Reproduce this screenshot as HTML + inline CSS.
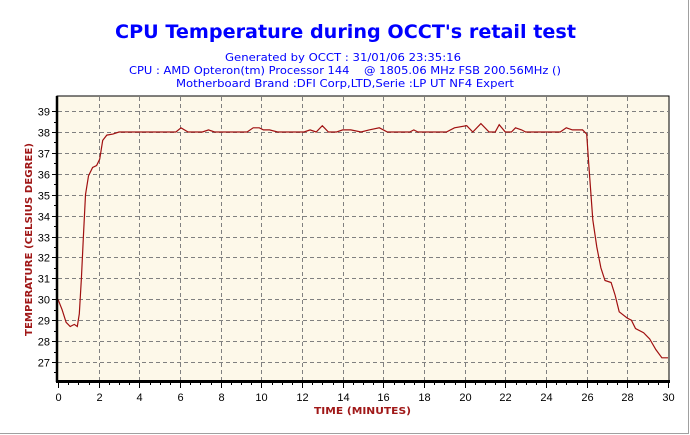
<!DOCTYPE html>
<html><head><meta charset="utf-8"><style>
body{margin:0;background:#fff}
svg{display:block}
</style></head><body>
<svg id="chart" width="690" height="435" xmlns="http://www.w3.org/2000/svg" font-family="DejaVu Sans, Liberation Sans, sans-serif">
<rect x="0" y="0" width="690" height="435" fill="#fff"/>
<line x1="688.5" y1="0" x2="688.5" y2="434" stroke="#a0a0a0"/>
<line x1="0" y1="433.5" x2="689" y2="433.5" stroke="#a0a0a0"/>
<text x="115" y="38" font-size="19" font-weight="bold" fill="#0000ff" textLength="461" lengthAdjust="spacingAndGlyphs">CPU Temperature during OCCT's retail test</text>
<text x="225" y="61" font-size="11" fill="#0000ff" textLength="236" lengthAdjust="spacingAndGlyphs">Generated by OCCT : 31/01/06 23:35:16</text>
<text x="129" y="74" font-size="11" fill="#0000ff" textLength="432" lengthAdjust="spacingAndGlyphs" xml:space="preserve">CPU : AMD Opteron(tm) Processor 144    @ 1805.06 MHz FSB 200.56MHz ()</text>
<text x="176" y="87" font-size="11" fill="#0000ff" textLength="338" lengthAdjust="spacingAndGlyphs">Motherboard Brand :DFI Corp,LTD,Serie :LP UT NF4 Expert</text>
<rect x="57" y="96" width="612" height="285" fill="#fdf8e9" stroke="#000"/>
<g id="grid"></g>
<g id="ticks"></g>
<path id="series" fill="none" stroke="#a01010" stroke-width="1.2"/>
<line x1="57" y1="96" x2="57" y2="382" stroke="#000" stroke-width="2.5"/>
<line x1="56" y1="381.5" x2="670" y2="381.5" stroke="#000" stroke-width="3"/>
<text x="314" y="414" font-size="10" font-weight="bold" fill="#a01818" textLength="97" lengthAdjust="spacingAndGlyphs">TIME (MINUTES)</text>
<text transform="translate(32,336) rotate(-90)" font-size="10" font-weight="bold" fill="#a01818" textLength="193" lengthAdjust="spacingAndGlyphs">TEMPERATURE (CELSIUS DEGREE)</text>
</svg>
<script>
const times=[0,0.2,0.4,0.6,0.8,0.95,1.05,1.15,1.25,1.35,1.5,1.7,1.9,2.05,2.2,2.4,2.7,3,5.8,6.05,6.4,7.1,7.4,7.7,9.3,9.6,9.9,10.1,10.4,10.8,12.1,12.4,12.7,13.0,13.3,13.7,14.0,14.4,14.9,15.3,15.8,16.2,17.3,17.5,17.7,19.1,19.5,20.1,20.4,20.8,21.2,21.5,21.7,22.0,22.3,22.5,22.8,23.0,24.7,25.0,25.3,25.8,26.0,26.1,26.3,26.5,26.7,26.9,27.2,27.4,27.6,28.0,28.2,28.4,28.8,29.1,29.4,29.7,30];
const temps=[30,29.5,28.9,28.7,28.8,28.7,29.3,31,33,35,35.9,36.3,36.4,36.7,37.6,37.85,37.9,38,38,38.2,38,38,38.1,38,38,38.2,38.2,38.1,38.1,38,38,38.1,38,38.3,38,38,38.1,38.1,38,38.1,38.2,38,38,38.1,38,38,38.2,38.3,38,38.4,38,38,38.35,38,38,38.2,38.1,38,38,38.2,38.1,38.1,37.9,36.5,33.8,32.5,31.5,30.9,30.8,30.2,29.4,29.1,29,28.6,28.4,28.1,27.6,27.2,27.2];
const xTicks=[0,2,4,6,8,10,12,14,16,18,20,22,24,26,28,30];
const yTicks=[27,28,29,30,31,32,33,34,35,36,37,38,39];
const NS='http://www.w3.org/2000/svg';
const X=t=>58+t*(610/30);
const Y=v=>132+(38-v)*(230/11);
const grid=document.getElementById('grid'),ticks=document.getElementById('ticks');
function mk(tag,attrs,parent){const e=document.createElementNS(NS,tag);for(const k in attrs)e.setAttribute(k,attrs[k]);parent.appendChild(e);return e;}
yTicks.forEach(v=>{
  const y=Math.round(Y(v))+0.5;
  const g=mk('line',{x1:58,y1:y,x2:669,y2:y,stroke:'#808080','stroke-dasharray':'4,3'},grid);
  
  
  mk('line',{x1:52,y1:y,x2:57,y2:y,stroke:'#000'},ticks);
  const t=mk('text',{x:50,y:y+4,'font-size':11,'text-anchor':'end',fill:'#000','font-family':'Liberation Sans, sans-serif'},ticks);
  t.textContent=v;
  
  
});
for(let i=0;i<=60;i++){const t=i/2;const x=Math.round(X(t))+0.5;mk('line',{x1:x,y1:382,x2:x,y2:i%4==0?388:385,stroke:'#000'},ticks);}
for(let i=1;i<=26;i++){const v=26+i*0.5;if(v%1===0)continue;const y=Math.round(Y(v))+0.5;mk('line',{x1:54,y1:y,x2:57,y2:y,stroke:'#000'},ticks);}
xTicks.forEach(t=>{
  const x=Math.round(X(t))+0.5;
  if(t>0&&t<30){const g=mk('line',{x1:x,y1:97,x2:x,y2:380,stroke:'#808080','stroke-dasharray':'4,3'},grid);
  
  }
  const tx=mk('text',{x:x,y:401,'font-size':11,'text-anchor':'middle',fill:'#000','font-family':'Liberation Sans, sans-serif'},ticks);
  tx.textContent=t;
  
  
});
document.getElementById('series').setAttribute('d',times.map((t,i)=>(i?'L':'M')+X(t).toFixed(1)+' '+Y(temps[i]).toFixed(1)).join(' '));
</script>
</body></html>
